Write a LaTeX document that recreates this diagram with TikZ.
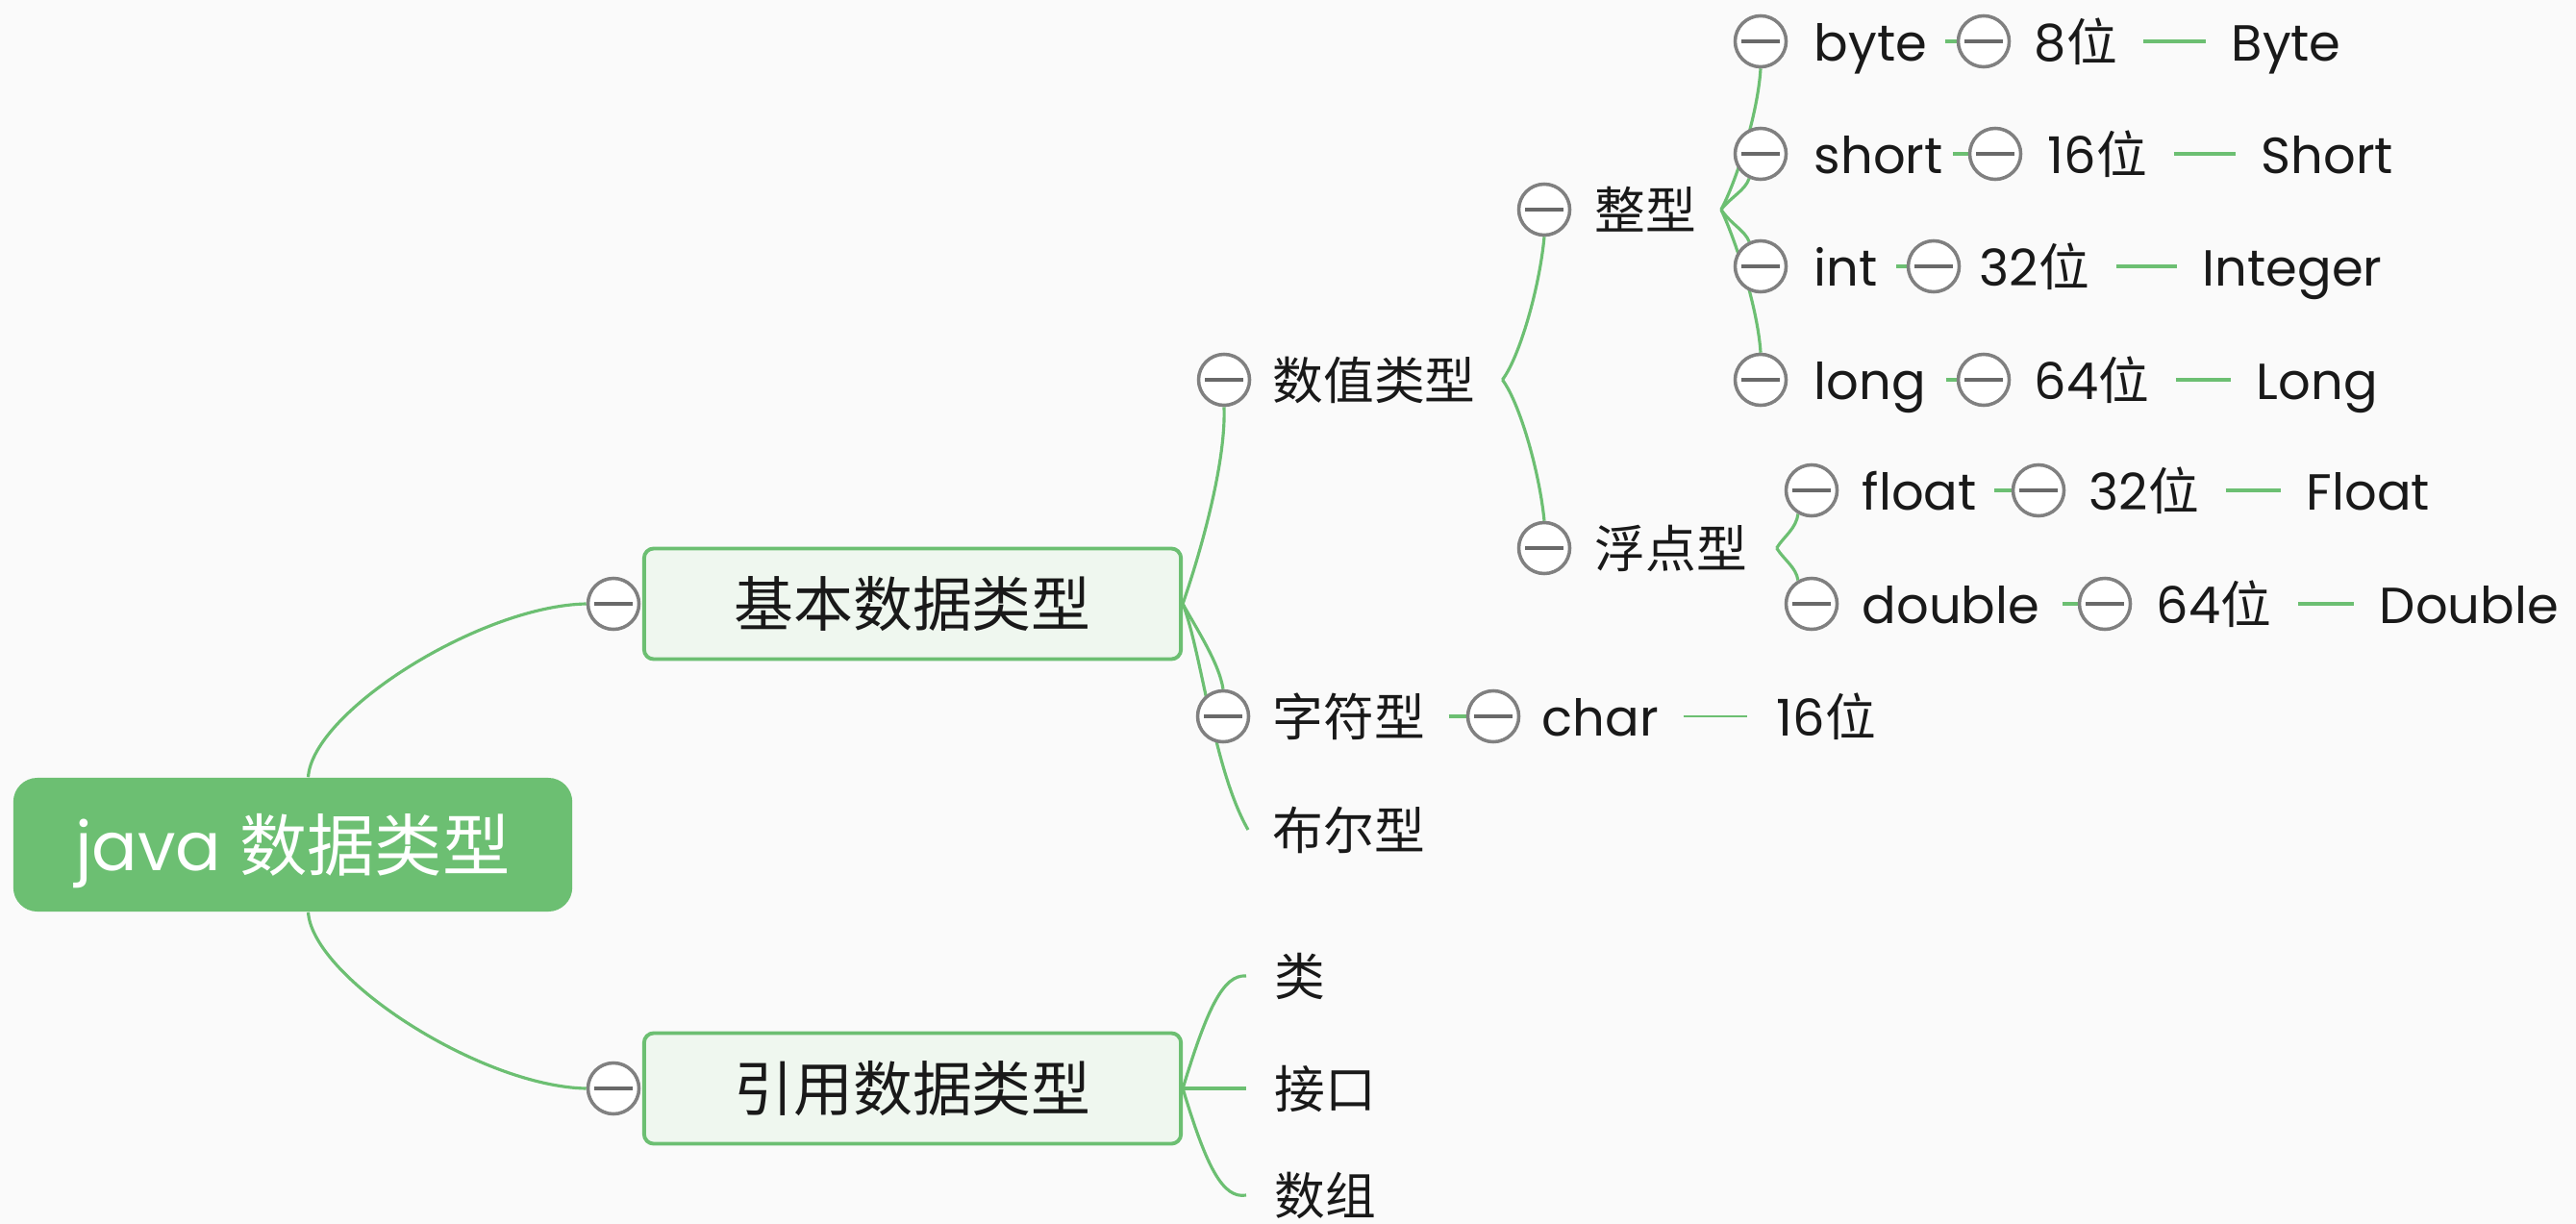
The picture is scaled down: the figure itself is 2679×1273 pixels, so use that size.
\documentclass[tikz,border=0pt]{standalone}
\usepackage{fontspec}
\setmainfont{Poppins}
\newfontfamily\cjk{Noto Sans CJK SC}
\definecolor{lgreen}{RGB}{108,191,114}
\definecolor{boxfill}{RGB}{239,247,239}
\definecolor{bgc}{RGB}{250,250,250}
\definecolor{cgray}{RGB}{128,128,128}
\definecolor{dgray}{RGB}{105,105,105}
\definecolor{txt}{RGB}{25,25,25}
\pgfdeclarelayer{bglayer}
\pgfdeclarelayer{linelayer}
\pgfsetlayers{bglayer,linelayer,main}
\begin{document}
\begin{tikzpicture}[x=0.01cm,y=-0.01cm,
  conn/.style={draw=lgreen, line width=0.9pt},
  leafline/.style={draw=lgreen, line width=1pt},
  thinline/.style={draw=lgreen, line width=0.7pt},
  cbtn/.style={circle, draw=cgray, line width=1pt, fill=white, minimum size=0.53cm, inner sep=0pt,
    path picture={\draw[dgray, line width=1.1pt] ([xshift=-0.2cm]path picture bounding box.center) -- ([xshift=0.2cm]path picture bounding box.center);}},
  lbl/.style={anchor=west, inner sep=0pt, text=txt, font=\fontsize{15}{18}\selectfont, text height=12.3pt, text depth=0.9pt},
  mainbox/.style={draw=lgreen, line width=1.1pt, fill=boxfill, rounded corners=0.1cm, minimum width=5.58cm, minimum height=1.15cm, inner sep=0pt, text=txt, font=\fontsize{17.6}{20}\selectfont, text height=14.4pt, text depth=1.06pt},
  rootbox/.style={fill=lgreen, rounded corners=0.25cm, minimum width=5.81cm, minimum height=1.39cm, inner sep=0pt, text=white, font=\fontsize{20}{24}\selectfont, text height=16.4pt, text depth=1.2pt},
]
\useasboundingbox (0,0) rectangle (2679,1273);
\begin{pgfonlayer}{bglayer}
\fill[bgc] (0,0) rectangle (2679,1273);
\end{pgfonlayer}

% main nodes
\node[rootbox] (root) at (304.5,878.5) {java {\cjk 数据类型}};
\node[mainbox] (jb) at (949,628) {\cjk 基本数据类型};
\node[mainbox] (yy) at (949,1132) {\cjk 引用数据类型};
\node[cbtn] (jbc) at (638,628) {};
\node[cbtn] (yyc) at (638,1132) {};

% level 2
\node[lbl] (sz) at (1323,395) {\cjk 数值类型};
\node[cbtn] (szc) at (1273,395) {};
\node[lbl] (zf) at (1323,745) {\cjk 字符型};
\node[cbtn] (zfc) at (1272,745) {};
\node[lbl] (br) at (1323,863) {\cjk 布尔型};

% level 3
\node[lbl] (zx) at (1658,218) {\cjk 整型};
\node[cbtn] (zxc) at (1606,218) {};
\node[lbl] (fd) at (1658,570) {\cjk 浮点型};
\node[cbtn] (fdc) at (1606,570) {};

% integer types
\node[lbl] (tbyte) at (1886,43) {byte};
\node[cbtn] (cbyte) at (1831,43) {};
\node[lbl] (tshort) at (1886,160) {short};
\node[cbtn] (cshort) at (1831,160) {};
\node[lbl] (tint) at (1886,277) {int};
\node[cbtn] (cint) at (1831,277) {};
\node[lbl] (tlong) at (1886,395) {long};
\node[cbtn] (clong) at (1831,395) {};

\node[lbl] (b8) at (2115,43) {8{\cjk 位}};
\node[cbtn] (cb8) at (2063,43) {};
\node[lbl] (b16) at (2129,160) {16{\cjk 位}};
\node[cbtn] (cb16) at (2075,160) {};
\node[lbl] (b32) at (2058,277) {32{\cjk 位}};
\node[cbtn] (cb32) at (2011,277) {};
\node[lbl] (b64) at (2115,395) {64{\cjk 位}};
\node[cbtn] (cb64) at (2063,395) {};

\node[lbl] (wByte) at (2320,43) {Byte};
\node[lbl] (wShort) at (2351,160) {Short};
\node[lbl] (wInt) at (2290,277) {Integer};
\node[lbl] (wLong) at (2346,395) {Long};

% float types
\node[lbl] (tfloat) at (1936,510) {float};
\node[cbtn] (cfloat) at (1884,510) {};
\node[lbl] (tdouble) at (1936,628) {double};
\node[cbtn] (cdouble) at (1884,628) {};
\node[lbl] (f32) at (2172,510) {32{\cjk 位}};
\node[cbtn] (cf32) at (2120,510) {};
\node[lbl] (d64) at (2242,628) {64{\cjk 位}};
\node[cbtn] (cd64) at (2189,628) {};
\node[lbl] (wFloat) at (2398,510) {Float};
\node[lbl] (wDouble) at (2474,628) {Double};

% char
\node[lbl] (tchar) at (1603,745) {char};
\node[cbtn] (cchar) at (1553,745) {};
\node[lbl] (c16) at (1847,745) {16{\cjk 位}};

% reference types
\node[lbl] (lei) at (1325,1015) {\cjk 类};
\node[lbl] (jk) at (1325,1132) {\cjk 接口};
\node[lbl] (sz2) at (1325,1243) {\cjk 数组};

\coordinate (szb) at ([xshift=0.27cm]sz.east);
\coordinate (zxb) at ([xshift=0.25cm]zx.east);
\coordinate (fdb) at ([xshift=0.3cm]fd.east);

\begin{pgfonlayer}{linelayer}
\draw[conn] ([xshift=0.16cm]root.north) .. controls (325,740) and (500,630) .. (jbc.west);
\draw[conn] ([xshift=0.16cm]root.south) .. controls (325,1017) and (500,1130) .. (yyc.west);

\draw[conn] (jb.east) .. controls (1250,570) and (1275,480) .. (szc.south);
\draw[conn] (jb.east) .. controls (1245,655) and (1268,690) .. (zfc.north);
\draw[conn] (jb.east) .. controls (1250,680) and (1262,800) .. ([xshift=-0.25cm]br.west);

\draw[conn] (szb) .. controls (1580,372) and (1601,300) .. (zxc.south);
\draw[conn] (szb) .. controls (1580,418) and (1601,490) .. (fdc.north);

\draw[conn] (zxb) .. controls (1805,190) and (1828,120) .. (cbyte.south);
\draw[conn] (zxb) .. controls (1800,205) and (1815,198) .. (cshort.245);
\draw[conn] (zxb) .. controls (1800,233) and (1815,240) .. (cint.115);
\draw[conn] (zxb) .. controls (1805,250) and (1828,320) .. (clong.north);

\draw[conn] (fdb) .. controls (1855,558) and (1868,550) .. (cfloat.240);
\draw[conn] (fdb) .. controls (1855,582) and (1868,590) .. (cdouble.120);

\draw[conn] ([xshift=0.18cm]tbyte.east) -- (cb8.west);
\draw[conn] ([xshift=0.1cm]tshort.east) -- (cb16.west);
\draw[conn] ([xshift=0.19cm]tint.east) -- (cb32.west);
\draw[conn] ([xshift=0.2cm]tlong.east) -- (cb64.west);
\draw[conn] ([xshift=0.18cm]tfloat.east) -- (cf32.west);
\draw[conn] ([xshift=0.23cm]tdouble.east) -- (cd64.west);
\draw[conn] ([xshift=0.24cm]zf.east) -- (cchar.west);

\draw[leafline] ([xshift=0.27cm]b8.east) -- ([xshift=-0.26cm]wByte.west);
\draw[leafline] ([xshift=0.27cm]b16.east) -- ([xshift=-0.26cm]wShort.west);
\draw[leafline] ([xshift=0.27cm]b32.east) -- ([xshift=-0.26cm]wInt.west);
\draw[leafline] ([xshift=0.27cm]b64.east) -- ([xshift=-0.26cm]wLong.west);
\draw[leafline] ([xshift=0.27cm]f32.east) -- ([xshift=-0.26cm]wFloat.west);
\draw[leafline] ([xshift=0.27cm]d64.east) -- ([xshift=-0.26cm]wDouble.west);
\draw[thinline] ([xshift=0.25cm]tchar.east) -- ([xshift=-0.3cm]c16.west);

\draw[conn] (yy.east) .. controls (1255,1050) and (1272,1013) .. ([xshift=-0.29cm]lei.west);
\draw[conn] (yy.east) -- ([xshift=-0.29cm]jk.west);
\draw[conn] (yy.east) .. controls (1255,1215) and (1272,1247) .. ([xshift=-0.29cm]sz2.west);
\end{pgfonlayer}
\end{tikzpicture}
\end{document}
